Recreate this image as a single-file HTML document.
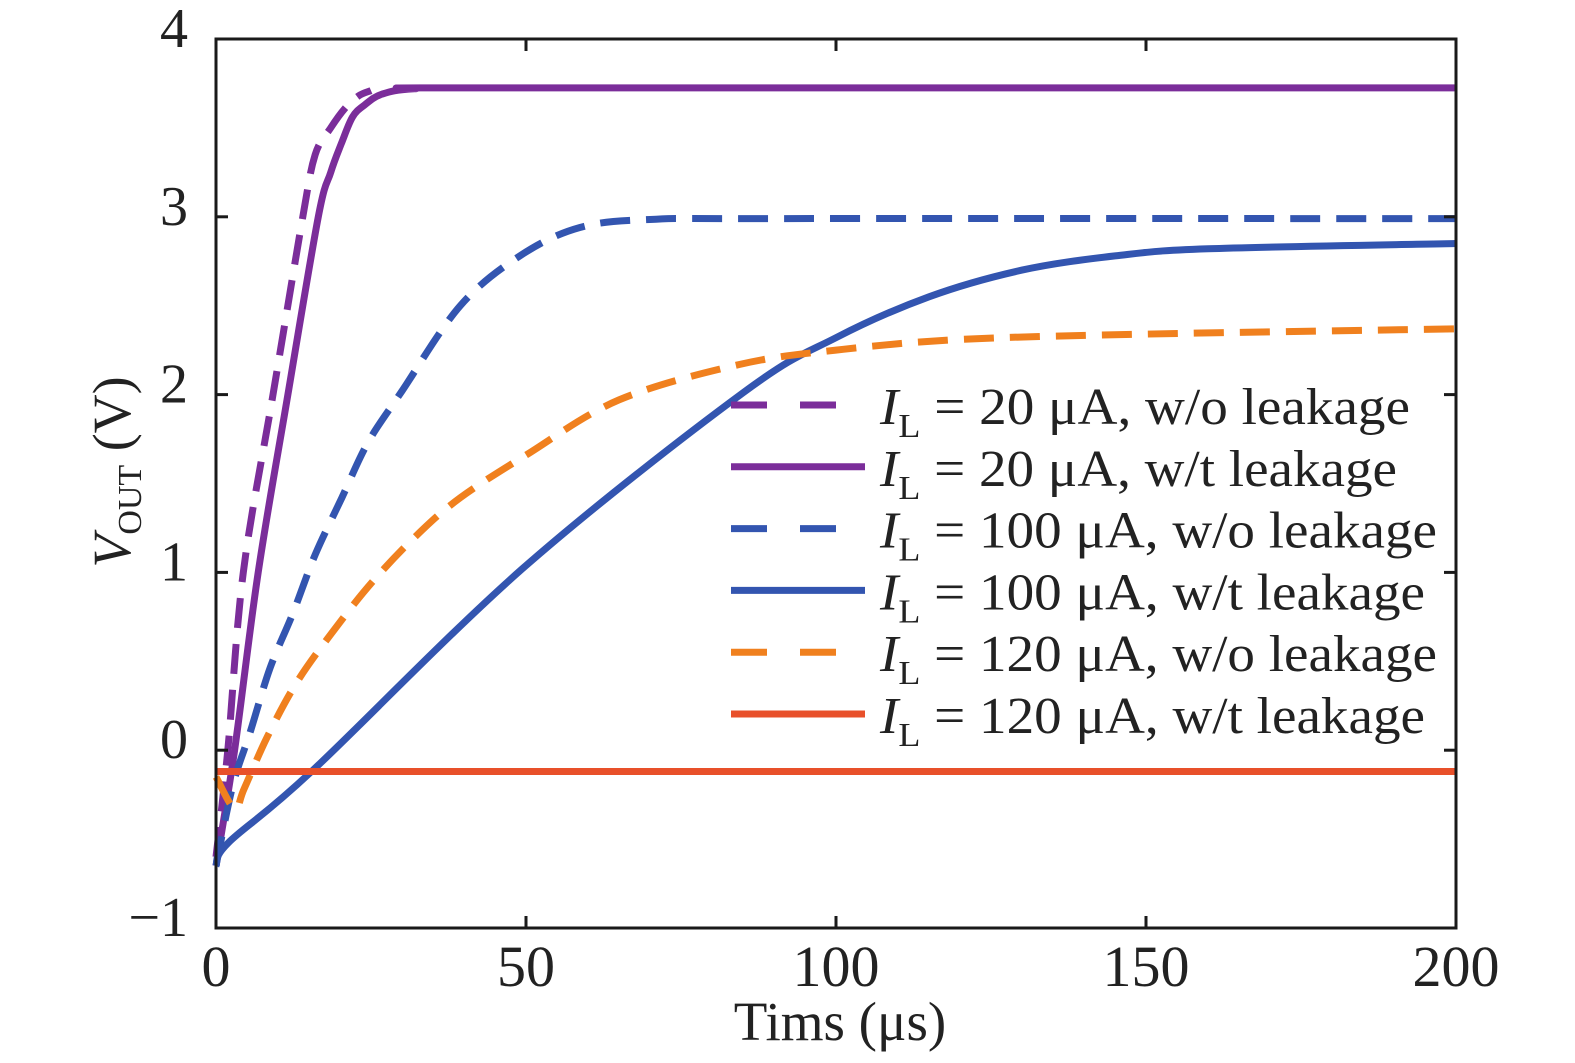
<!DOCTYPE html>
<html><head><meta charset="utf-8"><style>
body{margin:0;background:#fff}
svg{display:block;font-family:"Liberation Serif",serif}
</style></head><body>
<svg width="1575" height="1063">
<g id="plot"></g>
<g id="axes"></g>
<g id="legend"></g>
</svg>
<script>
const tickX=[0,50,100,150,200];
const tickY=[-1,0,1,2,3,4];
const tickYLabels=["\u22121","0","1","2","3","4"];
const p20woT=[0,1.9,4.4,9.2,14,16,18.5,20.8,23,25];
const p20woV=[-0.6,0,1,2,3,3.35,3.5,3.61,3.68,3.71];
const p20wT=[0,3,6.8,11.6,16.5,18.5,20.2,22,24,26.8,32,45,200];
const p20wV=[-0.65,0,1,2,3,3.25,3.41,3.56,3.63,3.69,3.72,3.725,3.725];
const p100woT=[0,2.7,5.5,8.7,12.4,16,20.3,24.5,30,39.4,49,58.7,70,90,200];
const p100woV=[-0.65,-0.2,0.1,0.46,0.77,1.1,1.42,1.73,2.02,2.5,2.78,2.94,2.985,2.99,2.99];
const p100wT=[0,2,15.4,49.4,85,100,115,130,145,160,200];
const p100wV=[-0.65,-0.52,-0.12,1.02,2.01,2.32,2.55,2.7,2.78,2.82,2.85];
const p120woT=[0,3,4.5,8.2,13,18.9,25.3,32.4,39.4,50,65,84.5,100,120,150,200];
const p120woV=[-0.15,-0.33,-0.22,0.07,0.38,0.67,0.95,1.21,1.42,1.66,1.97,2.17,2.25,2.31,2.34,2.37];
const p120wT=[0,200];
const p120wV=[-0.12,-0.12];
const NS="http://www.w3.org/2000/svg";
const X0=216,X1=1456,Y0=928,Y1=39;
const sx=t=>X0+(t)/200*(X1-X0);
const sy=v=>Y0-(v+1)/5*(Y0-Y1);
function mk(tag,attrs,parent){const e=document.createElementNS(NS,tag);for(const k in attrs)e.setAttribute(k,attrs[k]);parent.appendChild(e);return e;}
function smooth(P){let d="M"+P[0][0].toFixed(1)+","+P[0][1].toFixed(1);
 for(let i=0;i<P.length-1;i++){const p0=P[Math.max(0,i-1)],p1=P[i],p2=P[i+1],p3=P[Math.min(P.length-1,i+2)];
  const c1x=p1[0]+(p2[0]-p0[0])/6,c1y=p1[1]+(p2[1]-p0[1])/6,c2x=p2[0]-(p3[0]-p1[0])/6,c2y=p2[1]-(p3[1]-p1[1])/6;
  d+=" C"+c1x.toFixed(1)+","+c1y.toFixed(1)+" "+c2x.toFixed(1)+","+c2y.toFixed(1)+" "+p2[0].toFixed(1)+","+p2[1].toFixed(1);}
 return d;}
const plot=document.getElementById('plot'),axes=document.getElementById('axes'),leg=document.getElementById('legend');
const series=[
 {t:p20woT,v:p20woV,c:"#7B2D9A",d:true,n:"20 \u03bcA, w/o leakage",id:"purple-dashed",w:530},
 {t:p20wT,v:p20wV,c:"#7B2D9A",d:false,n:"20 \u03bcA, w/t leakage",id:"purple-solid",w:517},
 {t:p100woT,v:p100woV,c:"#3355B0",d:true,n:"100 \u03bcA, w/o leakage",id:"blue-dashed",w:557},
 {t:p100wT,v:p100wV,c:"#3355B0",d:false,n:"100 \u03bcA, w/t leakage",id:"blue-solid",w:545},
 {t:p120woT,v:p120woV,c:"#F0801E",d:true,n:"120 \u03bcA, w/o leakage",id:"orange-dashed",w:557},
 {t:p120wT,v:p120wV,c:"#E8502A",d:false,n:"120 \u03bcA, w/t leakage",id:"red-solid",w:545}];
series.forEach((s,i)=>{
 const P=s.t.map((t,j)=>[sx(t),sy(s.v[j])]);
 const pl=mk('path',{d:smooth(P),fill:"none",stroke:s.c,"stroke-width":7,"stroke-linejoin":"round"},plot);
 if(s.d)pl.setAttribute('stroke-dasharray','30 16');
 
 
 const y=405+i*61.8;
 const ll=mk('line',{x1:731,x2:865,y1:y,y2:y,stroke:s.c,"stroke-width":7},leg);
 if(s.d)ll.setAttribute('stroke-dasharray','36 33');
 
 
 const tx=mk('text',{x:880,y:y+19,"font-size":52,fill:"#222",textLength:s.w,lengthAdjust:"spacingAndGlyphs"},leg);
 tx.innerHTML='<tspan font-style="italic">I</tspan><tspan dy="13" font-size="34">L</tspan><tspan dy="-13"> = '+s.n+'</tspan>';
 
 
});
const box=mk('rect',{x:X0,y:Y1,width:X1-X0,height:Y0-Y1,fill:"none",stroke:"#1a1a1a","stroke-width":3},axes);


tickX.forEach(t=>{
 mk('line',{x1:sx(t),x2:sx(t),y1:Y0,y2:Y0-12,stroke:"#1a1a1a","stroke-width":3},axes);
 mk('line',{x1:sx(t),x2:sx(t),y1:Y1,y2:Y1+12,stroke:"#1a1a1a","stroke-width":3},axes);
 const l=mk('text',{x:sx(t),y:986,"font-size":58,"text-anchor":"middle",fill:"#222"},axes);
 l.textContent=t;
 
 
});
tickY.forEach((v,i)=>{
 mk('line',{x1:X0,x2:X0+12,y1:sy(v),y2:sy(v),stroke:"#1a1a1a","stroke-width":3},axes);
 mk('line',{x1:X1,x2:X1-12,y1:sy(v),y2:sy(v),stroke:"#1a1a1a","stroke-width":3},axes);
 const l=mk('text',{x:188,y:sy(v)+8,"font-size":56,"text-anchor":"end",fill:"#222"},axes);
 l.textContent=tickYLabels[i];
 
 
});
const xt=mk('text',{x:840,y:1040,"font-size":55,"text-anchor":"middle",fill:"#222"},axes);
xt.textContent="Tims (\u03bcs)";


const yt=mk('text',{x:0,y:0,"font-size":54,"text-anchor":"middle",fill:"#222",transform:"translate(130,472) rotate(-90)"},axes);
yt.innerHTML='<tspan font-style="italic">V</tspan><tspan dy="11" font-size="34">OUT</tspan><tspan dy="-11"> (V)</tspan>';


</script>
</body></html>
